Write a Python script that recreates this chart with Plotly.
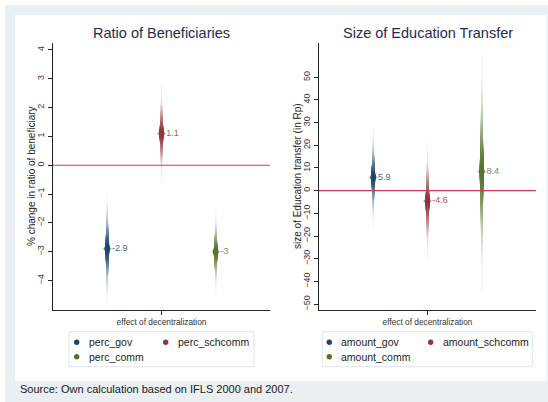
from statistics import NormalDist

import numpy as np
import plotly.graph_objects as go

# ---- data -----------------------------------------------------------------
categories = ["gov", "schcomm", "comm"]
cat_pos = [-0.5, 0.0, 0.5]

ratio_names = ["perc_gov", "perc_schcomm", "perc_comm"]
ratio_est = [-2.9, 1.1, -3.0]
ratio_ci99 = [1.92, 1.69, 1.47]          # half-width of the 99% interval

amount_names = ["amount_gov", "amount_schcomm", "amount_comm"]
amount_est = [5.9, -4.6, 8.4]
amount_ci99 = [22.2, 26.0, 53.3]         # half-width of the 99% interval

ratio_ticks = [-4, -3, -2, -1, 0, 1, 2, 3, 4]
amount_ticks = [-50, -40, -30, -20, -10, 0, 10, 20, 30, 40, 50]

colors = ["#1a476f", "#90353b", "#55752f"]   # navy, maroon, forest green

W, H = 548, 402
FONT = "Liberation Sans, Arial, sans-serif"


def px(x):
    return x / W


def py(y):
    return 1 - y / H


def tint(hex_color, t):
    """Blend a colour with white; t=1 gives the full colour."""
    r, g, b = (int(hex_color[i:i + 2], 16) for i in (1, 3, 5))
    mix = lambda c: int(round(255 - (255 - c) * t))
    return f"rgb({mix(r)},{mix(g)},{mix(b)})"


# smoothed confidence intervals: many nested levels, wide ones thin and pale
levels = np.linspace(1, 99, 50)
z99 = NormalDist().inv_cdf(0.995)
z_lv = [NormalDist().inv_cdf(0.5 + lv / 200) for lv in levels]
frac = (levels - levels[0]) / (levels[-1] - levels[0])
widths = 4.4 - 3.4 * frac
intens = 1.0 - 0.93 * frac ** 1.8

fig = go.Figure()


def add_panel(est, ci99, xa, ya):
    for pos, e, h99, col in zip(cat_pos, est, ci99, colors):
        se = h99 / z99
        for k in range(len(levels) - 1, -1, -1):
            h = z_lv[k] * se
            fig.add_trace(go.Scatter(
                x=[pos, pos], y=[e - h, e + h], mode="lines",
                line=dict(color=tint(col, intens[k]), width=widths[k]),
                xaxis=xa, yaxis=ya, showlegend=False, hoverinfo="skip"))
        fig.add_trace(go.Scatter(
            x=[pos - 0.045, pos + 0.045], y=[e, e], mode="lines",
            line=dict(color=tint(col, 0.22), width=1.6),
            xaxis=xa, yaxis=ya, showlegend=False, hoverinfo="skip"))
        fig.add_trace(go.Scatter(
            x=[pos], y=[e], mode="markers+text",
            marker=dict(color=col, size=6, symbol="circle"),
            text=[f"{e:g}"], textposition="middle right",
            textfont=dict(family=FONT, size=9, color=tint(col, 0.8)),
            xaxis=xa, yaxis=ya, showlegend=False, hoverinfo="skip"))


add_panel(ratio_est, ratio_ci99, "x", "y")
add_panel(amount_est, amount_ci99, "x2", "y2")

axis_common = dict(showgrid=False, zeroline=False, showline=True,
                   linecolor="#222222", linewidth=1, ticks="outside",
                   ticklen=4, tickcolor="#222222",
                   tickfont=dict(family=FONT, size=9, color="#333333"))
xtick_font = dict(family=FONT, size=8.3, color="#333333")

ydom = [py(310), py(43)]
fig.update_layout(
    width=W, height=H, margin=dict(l=0, r=0, t=0, b=0),
    paper_bgcolor="white", plot_bgcolor="white", showlegend=False,
    xaxis=dict(domain=[px(53), px(270)], range=[-1, 1], tickvals=[0],
               ticktext=["effect of decentralization"], anchor="y",
               **{**axis_common, "tickfont": xtick_font}),
    yaxis=dict(domain=ydom, range=[-5.02, 4.24], tickvals=ratio_ticks,
               tickangle=-90, anchor="x", **axis_common),
    xaxis2=dict(domain=[px(319), px(536)], range=[-1, 1], tickvals=[0],
                ticktext=["effect of decentralization"], anchor="y2",
                **{**axis_common, "tickfont": xtick_font}),
    yaxis2=dict(domain=ydom, range=[-52.6, 65.1], tickvals=amount_ticks,
                tickangle=-90, anchor="x2", **axis_common),
)

shapes = [
    # outer frame and inner white region
    dict(type="rect", xref="paper", yref="paper", x0=px(5), x1=1, y0=0, y1=py(5),
         fillcolor="#e9eff2", line=dict(width=0), layer="below"),
    dict(type="rect", xref="paper", yref="paper", x0=px(15), x1=px(546.5),
         y0=py(381), y1=py(15), fillcolor="white", line=dict(width=0), layer="below"),
    # reference lines at zero
    dict(type="line", xref="x domain", yref="y", x0=0, x1=1, y0=0, y1=0,
         line=dict(color="#d2385a", width=1.2)),
    dict(type="line", xref="x2 domain", yref="y2", x0=0, x1=1, y0=0, y1=0,
         line=dict(color="#d2385a", width=1.2)),
]

annotations = [
    dict(text="Ratio of Beneficiaries", x=px(161.5), y=py(33)),
    dict(text="Size of Education Transfer", x=px(427.5), y=py(33)),
]
for a in annotations:
    a.update(xref="paper", yref="paper", showarrow=False, xanchor="center",
             yanchor="middle", font=dict(family=FONT, size=14.5, color="#1f2b4e"))

annotations += [
    dict(text="% change in ratio of beneficiary", x=px(31.5), y=py(176.5), textangle=-90,
         xref="paper", yref="paper", showarrow=False, xanchor="center", yanchor="middle",
         font=dict(family=FONT, size=10, color="#222222")),
    dict(text="size of Education transfer (in Rp)", x=px(297.5), y=py(176.5), textangle=-90,
         xref="paper", yref="paper", showarrow=False, xanchor="center", yanchor="middle",
         font=dict(family=FONT, size=10, color="#222222")),
    dict(text="Source: Own calculation based on IFLS 2000 and 2007.", x=px(18), y=py(388.5),
         xref="paper", yref="paper", showarrow=False, xanchor="left", yanchor="middle",
         font=dict(family=FONT, size=11, color="#1a1a1a")),
]

# legend boxes with their keys
legend_boxes = [(69, 254, ratio_names, [76.7, 165.7, 76.7]),
                (322.3, 532.3, amount_names, [329.3, 430.7, 329.3])]
rows = [342.3, 342.3, 356.7]
for x0, x1, names, kx in legend_boxes:
    shapes.append(dict(type="rect", xref="paper", yref="paper", x0=px(x0), x1=px(x1),
                       y0=py(366.7), y1=py(331.7), fillcolor="white",
                       line=dict(color="#dce6ea", width=1), layer="below"))
    for name, cx, cy, col in zip(names, kx, rows, colors):
        r = 2.7
        shapes.append(dict(type="circle", xref="paper", yref="paper",
                           x0=px(cx - r), x1=px(cx + r), y0=py(cy + r), y1=py(cy - r),
                           fillcolor=col, line=dict(width=0)))
        annotations.append(dict(text=name, x=px(cx + 9.8), y=py(cy), xref="paper",
                                yref="paper", showarrow=False, xanchor="left",
                                yanchor="middle",
                                font=dict(family=FONT, size=10.5, color="#222222")))

fig.update_layout(shapes=shapes, annotations=annotations)
fig.write_html("out.html")
